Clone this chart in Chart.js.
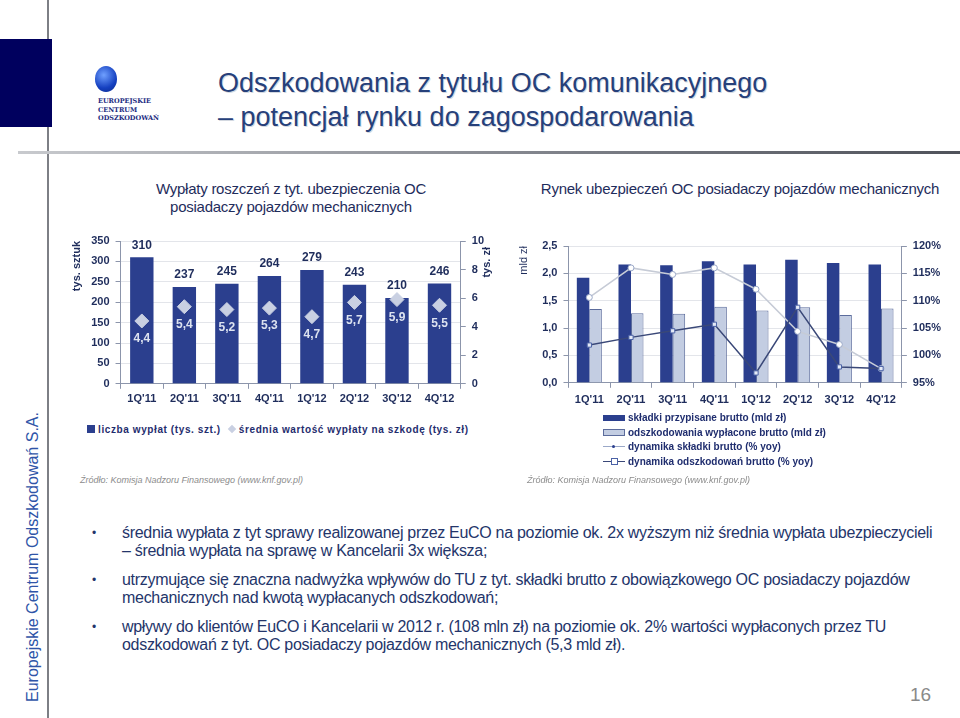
<!DOCTYPE html>
<html lang="pl">
<head>
<meta charset="utf-8">
<script src="https://cdn.jsdelivr.net/npm/chart.js@4.4.0/dist/chart.umd.min.js"></script>
<style>
  body { margin: 0; width: 960px; height: 718px; background: #fff; position: relative; overflow: hidden; font-family: 'Liberation Sans', Arial, sans-serif; }
  .abs { position: absolute; }
  #vline { left: 47px; top: 0; width: 2px; height: 718px; background: #7d7f85; }
  #logoBox { left: 0; top: 39px; width: 52px; height: 88px; background: #00005e; }
  #globe { left: 95px; top: 66px; width: 22px; height: 26px; border-radius: 50%; background: radial-gradient(circle at 40% 35%, #6fa0ff, #1540c0 60%, #0a2a8a); }
  #logoText { left: 98px; top: 97px; font-family: 'DejaVu Serif', serif; font-weight: bold; font-size: 6.5px; line-height: 8.5px; color: #1a2a80; }
  #title { left: 218px; top: 66px; font-size: 27px; line-height: 34px; color: #26407a; text-shadow: 1px 1px 0 #d3d8e0; }
  #sep { left: 18px; top: 151px; width: 942px; height: 3px; background: linear-gradient(to right, #c8cace, #7b7e86 60%, #4f525a); }
  .sub { font-size: 15px; line-height: 18px; color: #1f2d5c; text-align: center; letter-spacing: -0.25px; }
  #vtext { left: 33px; top: 557px; transform: translate(-50%, -50%) rotate(-90deg); white-space: nowrap; font-size: 16px; color: #2f55a8; }
  .src { font-size: 9px; font-style: italic; color: #8c8c8c; }
  .legend { font-size: 10px; font-weight: bold; color: #1f2d6e; }
  .legend span.item { margin-right: 6px; }
  #bullets { left: 92px; top: 524px; font-size: 16px; line-height: 18px; color: #24356a; letter-spacing: -0.3px; white-space: nowrap; }
  #bullets div { position: relative; padding-left: 30px; margin-bottom: 11px; }
  #bullets div:before { content: '\2022'; position: absolute; left: 0; top: 0; font-size: 12px; }
  #page { left: 910px; top: 684px; font-size: 19px; color: #8a8a8a; }
  #legendR div { height: 14.5px; line-height: 14.5px; white-space: nowrap; }
</style>
</head>
<body>
<div class="abs" id="vline"></div>
<div class="abs" id="logoBox"></div>
<div class="abs" id="globe"></div>
<div class="abs" id="logoText">EUROPEJSKIE<br>CENTRUM<br>ODSZKODOWAŃ</div>
<div class="abs" id="title">Odszkodowania z tytułu OC komunikacyjnego<br>– potencjał rynku do zagospodarowania</div>
<div class="abs" id="sep"></div>

<div class="abs sub" style="left:130px; top:180px; width:322px;">Wypłaty roszczeń z tyt. ubezpieczenia OC<br>posiadaczy pojazdów mechanicznych</div>
<div class="abs sub" style="left:520px; top:180px; width:440px;">Rynek ubezpieczeń OC posiadaczy pojazdów mechanicznych</div>

<div class="abs" style="left:68px; top:226px; width:440px; height:184px;"><canvas id="chartL"></canvas></div>
<div class="abs" style="left:511px; top:229px; width:436px; height:184px;"><canvas id="chartR"></canvas></div>

<div class="abs legend" id="legendL" style="left:87px; top:424px;"></div>
<div class="abs legend" id="legendR" style="left:603px; top:411px;"></div>

<div class="abs src" style="left:80px; top:475px;">Źródło: Komisja Nadzoru Finansowego (www.knf.gov.pl)</div>
<div class="abs src" style="left:527px; top:475px;">Źródło: Komisja Nadzoru Finansowego (www.knf.gov.pl)</div>

<div class="abs" id="vtext">Europejskie Centrum Odszkodowań S.A.</div>

<div class="abs" id="bullets">
  <div>średnia wypłata z tyt sprawy realizowanej przez EuCO na poziomie ok. 2x wyższym niż średnia wypłata ubezpieczycieli<br>– średnia wypłata na sprawę w Kancelarii 3x większa;</div>
  <div>utrzymujące się znaczna nadwyżka wpływów do TU z tyt. składki brutto z obowiązkowego OC posiadaczy pojazdów<br>mechanicznych nad kwotą wypłacanych odszkodowań;</div>
  <div>wpływy do klientów EuCO i Kancelarii w 2012 r. (108 mln zł) na poziomie ok. 2% wartości wypłaconych przez TU<br>odszkodowań z tyt. OC posiadaczy pojazdów mechanicznych (5,3 mld zł).</div>
</div>
<div class="abs" id="page">16</div>

<script>
// kwartały (wspólne dla obu wykresów)
const quarters = ["1Q'11", "2Q'11", "3Q'11", "4Q'11", "1Q'12", "2Q'12", "3Q'12", "4Q'12"];

// wykres lewy: liczba wypłat (tys. szt.) i średnia wypłata (tys. zł)
const claimsCount = [310, 237, 245, 264, 279, 243, 210, 246];
const avgClaim = [4.4, 5.4, 5.2, 5.3, 4.7, 5.7, 5.9, 5.5];
const leftLabels = ['liczba wypłat (tys. szt.)', 'średnia wartość wypłaty na szkodę (tys. zł)'];

// wykres prawy: składki i odszkodowania (mld zł), dynamika (% yoy)
const premiums = [1.92, 2.16, 2.15, 2.22, 2.16, 2.25, 2.19, 2.16];
const payouts = [1.35, 1.27, 1.26, 1.39, 1.32, 1.38, 1.24, 1.36];
const premiumDyn = [110.6, 116.0, 114.8, 116.0, 112.1, 104.4, 102.0, 97.6];
const payoutDyn = [101.9, 103.3, 104.5, 105.7, 96.8, 108.8, 97.9, 97.6];
const rightLabels = ['składki przypisane brutto (mld zł)', 'odszkodowania wypłacone brutto (mld zł)', 'dynamika składki brutto (% yoy)', 'dynamika odszkodowań brutto (% yoy)'];

const navy = '#2b3f8e';
const textCol = '#1f2d5c';
const axisCol = '#8c95ab';
const gridCol = '#e3e5ea';
const tickFont = { family: 'Liberation Sans', size: 11, weight: 'bold' };

Chart.defaults.font.family = 'Liberation Sans';
Chart.defaults.color = textCol;

// etykiety wartości na lewym wykresie + tytuł prawej osi czytany od dołu
const valueLabels = {
  id: 'valueLabels',
  afterDatasetsDraw(chart) {
    const ctx = chart.ctx;
    ctx.save();
    ctx.font = 'bold 12px Liberation Sans';
    ctx.textAlign = 'center';
    chart.getDatasetMeta(0).data.forEach((bar, i) => {
      ctx.fillStyle = textCol;
      ctx.textBaseline = 'bottom';
      ctx.fillText(claimsCount[i], bar.x, bar.y - 6);
    });
    chart.getDatasetMeta(1).data.forEach((pt, i) => {
      ctx.fillStyle = '#dde3f0';
      ctx.textBaseline = 'top';
      ctx.fillText(avgClaim[i].toFixed(1).replace('.', ','), pt.x, pt.y + 12);
    });
    // tytuł osi prawej
    const s = chart.scales.y1;
    ctx.fillStyle = textCol;
    ctx.translate(s.right - 3, s.top + 6);
    ctx.rotate(-Math.PI / 2);
    ctx.font = 'bold 11px Liberation Sans';
    ctx.textAlign = 'right';
    ctx.textBaseline = 'middle';
    ctx.fillText('tys. zł', 0, 0);
    ctx.restore();
  }
};

new Chart(document.getElementById('chartL'), {
  type: 'bar',
  data: {
    labels: quarters,
    datasets: [{
      label: leftLabels[0],
      data: claimsCount,
      backgroundColor: navy,
      barPercentage: 0.55,
      categoryPercentage: 1,
      yAxisID: 'y',
      order: 2
    }, {
      type: 'line',
      label: leftLabels[1],
      data: avgClaim,
      showLine: false,
      pointStyle: 'rectRot',
      pointRadius: 7,
      pointBackgroundColor: '#c9d0e2',
      pointBorderColor: '#c9d0e2',
      yAxisID: 'y1',
      order: 1
    }]
  },
  options: {
    responsive: true,
    maintainAspectRatio: false,
    animation: false,
    layout: { padding: { top: 15, right: 18, bottom: 0, left: 0 } },
    plugins: { legend: { display: false }, tooltip: { enabled: false } },
    scales: {
      x: {
        grid: { offset: true, drawOnChartArea: false, tickLength: 5, color: axisCol },
        border: { color: axisCol },
        ticks: { font: tickFont, color: textCol, padding: 4 }
      },
      y: {
        min: 0, max: 350,
        ticks: { stepSize: 50, font: tickFont, color: textCol, padding: 6 },
        grid: { color: gridCol, tickLength: 5, tickColor: axisCol },
        border: { color: axisCol },
        title: { display: true, text: 'tys. sztuk', align: 'end', font: tickFont, color: textCol, padding: 2 }
      },
      y1: {
        position: 'right',
        min: 0, max: 10,
        ticks: { stepSize: 2, font: tickFont, color: textCol, padding: 6 },
        grid: { drawOnChartArea: false, tickLength: 5, color: axisCol },
        border: { color: axisCol }
      }
    }
  },
  plugins: [valueLabels]
});

new Chart(document.getElementById('chartR'), {
  type: 'bar',
  data: {
    labels: quarters,
    datasets: [{
      label: rightLabels[0],
      data: premiums,
      backgroundColor: navy,
      borderWidth: 0,
      barPercentage: 1,
      categoryPercentage: 0.6,
      yAxisID: 'y',
      order: 2
    }, {
      label: rightLabels[1],
      data: payouts,
      backgroundColor: '#c3cde2',
      borderColor: '#5c6c9c',
      borderWidth: 1,
      barPercentage: 1,
      categoryPercentage: 0.6,
      yAxisID: 'y',
      order: 2
    }, {
      type: 'line',
      label: rightLabels[2],
      data: premiumDyn,
      borderColor: '#c6cbd6',
      borderWidth: 1.5,
      pointStyle: 'circle',
      pointRadius: 3,
      pointBackgroundColor: '#ffffff',
      pointBorderColor: '#9aa8c8',
      pointBorderWidth: 1,
      yAxisID: 'y1',
      order: 1
    }, {
      type: 'line',
      label: rightLabels[3],
      data: payoutDyn,
      borderColor: '#3a4878',
      borderWidth: 1.5,
      pointStyle: 'rect',
      pointRadius: 3,
      pointBackgroundColor: '#e4eaf7',
      pointBorderColor: '#4b62a6',
      pointBorderWidth: 1,
      yAxisID: 'y1',
      order: 0
    }]
  },
  options: {
    responsive: true,
    maintainAspectRatio: false,
    animation: false,
    layout: { padding: { top: 17, right: 0, bottom: 0, left: 0 } },
    plugins: { legend: { display: false }, tooltip: { enabled: false } },
    scales: {
      x: {
        grid: { offset: true, drawOnChartArea: false, tickLength: 5, color: axisCol },
        border: { color: axisCol },
        ticks: { font: tickFont, color: textCol, padding: 6 }
      },
      y: {
        min: 0, max: 2.5,
        ticks: { stepSize: 0.5, font: tickFont, color: textCol, padding: 6,
          callback: v => v.toFixed(1).replace('.', ',') },
        grid: { color: gridCol, tickLength: 5, tickColor: axisCol },
        border: { color: axisCol },
        title: { display: true, text: 'mld zł', align: 'end', font: { family: 'Liberation Sans', size: 11 }, color: textCol, padding: 6 }
      },
      y1: {
        position: 'right',
        min: 95, max: 120,
        ticks: { stepSize: 5, font: tickFont, color: textCol, padding: 6, callback: v => v + '%' },
        grid: { drawOnChartArea: false, tickLength: 5, color: axisCol },
        border: { color: axisCol }
      }
    }
  }
});

// legendy HTML z etykiet serii
const legendL = document.getElementById('legendL');
legendL.style.letterSpacing = '0.6px';
legendL.innerHTML =
  '<span class="item"><span style="display:inline-block;width:8px;height:8px;background:' + navy + ';margin-right:3px;"></span>' + leftLabels[0] + '</span>' +
  '<span class="item"><span style="display:inline-block;width:6px;height:6px;background:#c9d0e2;transform:rotate(45deg);margin:0 4px 1px 2px;"></span>' + leftLabels[1] + '</span>';

const swatches = [
  '<span style="display:inline-block;width:22px;height:6px;background:' + navy + ';vertical-align:middle;margin-right:3px;"></span>',
  '<span style="display:inline-block;width:20px;height:5px;background:#c3cde2;border:1px solid #5c6c9c;vertical-align:middle;margin-right:3px;"></span>',
  '<span style="display:inline-block;position:relative;width:22px;height:6px;vertical-align:middle;margin-right:3px;"><span style="position:absolute;left:0;top:2px;width:22px;height:1px;background:#9aa8c8;"></span><span style="position:absolute;left:9px;top:1px;width:3px;height:3px;border-radius:50%;background:#2b3f8e;"></span></span>',
  '<span style="display:inline-block;position:relative;width:22px;height:7px;vertical-align:middle;margin-right:3px;"><span style="position:absolute;left:0;top:3px;width:22px;height:1px;background:#3a4878;"></span><span style="position:absolute;left:8px;top:0;width:5px;height:5px;background:#fff;border:1px solid #4b62a6;"></span></span>'
];
document.getElementById('legendR').innerHTML = rightLabels.map((l, i) => '<div>' + swatches[i] + l + '</div>').join('');
</script>
</body>
</html>
